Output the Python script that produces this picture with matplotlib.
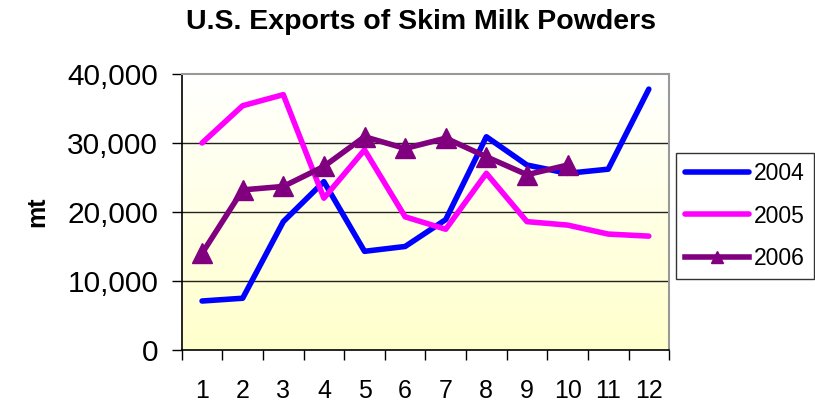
import matplotlib
matplotlib.use("Agg")
import matplotlib.pyplot as plt
import numpy as np
from matplotlib.ticker import FuncFormatter

plt.rcParams['font.family'] = ['Liberation Sans', 'DejaVu Sans']

# data
months = [1, 2, 3, 4, 5, 6, 7, 8, 9, 10, 11, 12]
exports_2004 = [7100, 7500, 18600, 24400, 14300, 15000, 18900, 30900, 26800, 25600, 26200, 37800]
exports_2005 = [30000, 35400, 37000, 22000, 29000, 19300, 17500, 25600, 18600, 18100, 16800, 16500]
months_2006 = [1, 2, 3, 4, 5, 6, 7, 8, 9, 10]
exports_2006 = [14000, 23200, 23700, 26600, 30900, 29200, 30700, 28000, 25400, 26800]

fig = plt.figure(figsize=(8.15, 4.03), dpi=100)
ax = fig.add_axes([0.223, 0.1315, 0.598, 0.685])

# gradient background: white at top to pale yellow at bottom
grad = np.linspace(0, 1, 256).reshape(-1, 1)
top = np.array([1.0, 1.0, 1.0])
bot = np.array([1.0, 1.0, 0.80])
img = top + (bot - top) * grad[:, :, None]
ax.imshow(img, extent=[0.5, 12.5, 0, 40000], aspect='auto', origin='upper', zorder=0)

for yv in [10000, 20000, 30000]:
    ax.axhline(yv, color='#222222', lw=1.0, zorder=1)

ax.plot(months, exports_2004, color='#0000FF', lw=4, solid_capstyle='round', label='2004', zorder=3)
ax.plot(months, exports_2005, color='#FF00FF', lw=4, solid_capstyle='round', label='2005', zorder=3)
ax.plot(months_2006, exports_2006, color='#800080', lw=4, marker='^', markersize=15,
        label='2006', zorder=4)

ax.set_xlim(0.5, 12.5)
ax.set_ylim(0, 40000)
ax.set_xticks(months)
ax.set_xticks(np.arange(0.5, 13, 1), minor=True)
ax.tick_params(axis='x', which='major', length=0, labelsize=18, pad=21)
ax.tick_params(axis='x', which='minor', length=7, direction='out', width=1)
ax.set_yticks([0, 10000, 20000, 30000, 40000])
ax.yaxis.set_major_formatter(FuncFormatter(lambda v, p: f"{int(v):,}"))
ax.tick_params(axis='y', labelsize=21.5, length=7, width=1, pad=10)

for s in ['top', 'right']:
    ax.spines[s].set_color('#999999')
    ax.spines[s].set_linewidth(1.5)
for s in ['left', 'bottom']:
    ax.spines[s].set_color('black')
    ax.spines[s].set_linewidth(1.2)

ax.set_ylabel('mt', fontsize=18, fontweight='bold', labelpad=13)
fig.text(0.517, 0.945, 'U.S. Exports of Skim Milk Powders', ha='center', va='center',
         fontsize=20.5, fontweight='bold')

leg = fig.legend(loc='center', bbox_to_anchor=(0.914, 0.464), fontsize=16.5, frameon=True,
                 fancybox=False, edgecolor='black', handlelength=2.8, handletextpad=0.2,
                 labelspacing=0.85, borderpad=0.4, markerscale=0.6)
leg.get_frame().set_linewidth(1.0)

fig.savefig('out.png', dpi=100)
